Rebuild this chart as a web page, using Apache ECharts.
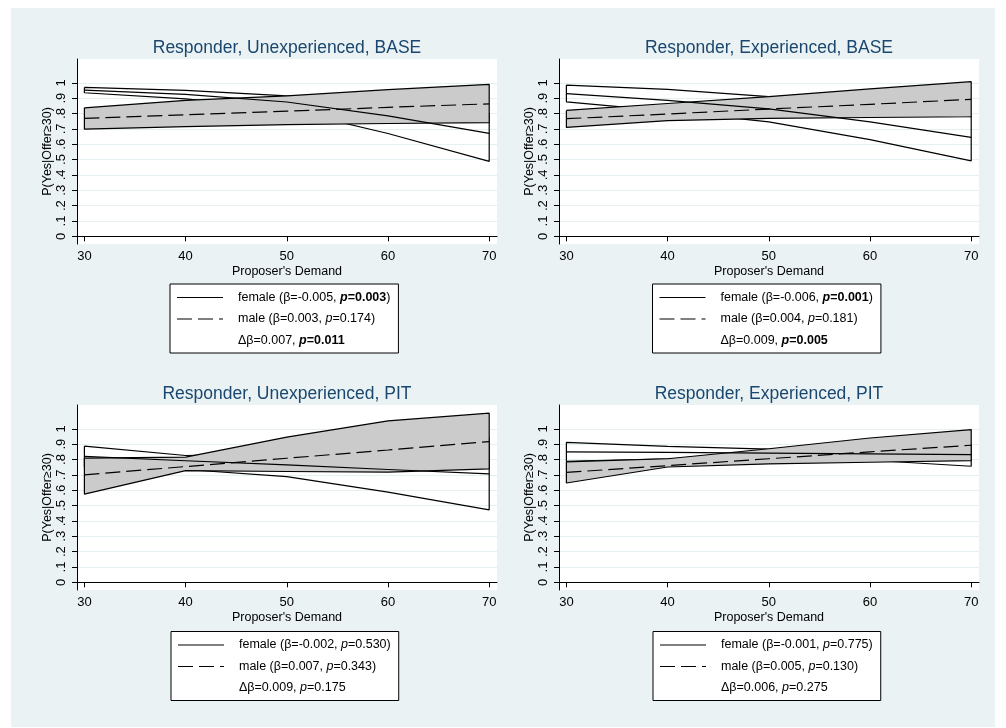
<!DOCTYPE html>
<html>
<head>
<meta charset="utf-8">
<script src="https://cdn.jsdelivr.net/npm/echarts@6/dist/echarts.min.js"></script>
<style>
html,body{margin:0;padding:0;background:#ffffff;width:1006px;height:728px;overflow:hidden;}
#c{position:absolute;left:11px;top:8px;width:984px;height:719px;background:#eaf2f3;}
</style>
</head>
<body>
<div id="c"></div>
<script>
// ---------- data ----------
const xValues = [30, 40, 50, 60, 70];
const xTickValues = [30, 40, 50, 60, 70];
const yTickValues = [0, 0.1, 0.2, 0.3, 0.4, 0.5, 0.6, 0.7, 0.8, 0.9, 1];
const yTickLabels = ['0', '.1', '.2', '.3', '.4', '.5', '.6', '.7', '.8', '.9', '1'];
const panelTitles = [
  'Responder, Unexperienced, BASE',
  'Responder, Experienced, BASE',
  'Responder, Unexperienced, PIT',
  'Responder, Experienced, PIT'
];
const xAxisTitle = "Proposer's Demand";
const yAxisTitle = 'P(Yes|Offer\u226530)';

// Responder, Unexperienced, BASE
const ubFemaleMean = [0.952, 0.925, 0.875, 0.785, 0.670];
const ubFemaleLo   = [0.935, 0.895, 0.825, 0.670, 0.488];
const ubFemaleHi   = [0.970, 0.950, 0.915, 0.870, 0.800];
const ubMaleMean   = [0.768, 0.792, 0.815, 0.840, 0.863];
const ubMaleLo     = [0.698, 0.715, 0.728, 0.735, 0.740];
const ubMaleHi     = [0.837, 0.885, 0.915, 0.955, 0.990];

// Responder, Experienced, BASE
const ebFemaleMean = [0.930, 0.885, 0.830, 0.745, 0.644];
const ebFemaleLo   = [0.876, 0.815, 0.745, 0.630, 0.492];
const ebFemaleHi   = [0.985, 0.957, 0.910, 0.850, 0.780];
const ebMaleMean   = [0.766, 0.797, 0.829, 0.860, 0.892];
const ebMaleLo     = [0.709, 0.753, 0.768, 0.774, 0.779];
const ebMaleHi     = [0.820, 0.865, 0.910, 0.960, 1.007];

// Responder, Unexperienced, PIT
const upFemaleMean = [0.820, 0.792, 0.765, 0.735, 0.707];
const upFemaleLo   = [0.752, 0.735, 0.689, 0.587, 0.472];
const upFemaleHi   = [0.887, 0.826, 0.840, 0.880, 0.940];
const upMaleMean   = [0.700, 0.754, 0.808, 0.862, 0.917];
const upMaleLo     = [0.574, 0.728, 0.722, 0.718, 0.739];
const upMaleHi     = [0.809, 0.815, 0.946, 1.052, 1.102];

// Responder, Experienced, PIT
const epFemaleMean = [0.850, 0.846, 0.842, 0.837, 0.832];
const epFemaleLo   = [0.788, 0.805, 0.812, 0.795, 0.756];
const epFemaleHi   = [0.912, 0.885, 0.868, 0.880, 0.900];
const epMaleMean   = [0.716, 0.760, 0.805, 0.850, 0.893];
const epMaleLo     = [0.647, 0.751, 0.771, 0.782, 0.793];
const epMaleHi     = [0.785, 0.805, 0.870, 0.940, 0.995];

// legend statistics
const femaleBeta = ['-0.005', '-0.006', '-0.002', '-0.001'];
const femaleP    = ['0.003', '0.001', '0.530', '0.775'];
const maleBeta   = ['0.003', '0.004', '0.007', '0.005'];
const maleP      = ['0.174', '0.181', '0.343', '0.130'];
const deltaBeta  = ['0.007', '0.009', '0.009', '0.006'];
const deltaP     = ['0.011', '0.005', '0.175', '0.275'];

// ---------- build ----------
const panels = [
  {fm: ubFemaleMean, fl: ubFemaleLo, fh: ubFemaleHi, mm: ubMaleMean, ml: ubMaleLo, mh: ubMaleHi},
  {fm: ebFemaleMean, fl: ebFemaleLo, fh: ebFemaleHi, mm: ebMaleMean, ml: ebMaleLo, mh: ebMaleHi},
  {fm: upFemaleMean, fl: upFemaleLo, fh: upFemaleHi, mm: upMaleMean, ml: upMaleLo, mh: upMaleHi},
  {fm: epFemaleMean, fl: epFemaleLo, fh: epFemaleHi, mm: epMaleMean, ml: epMaleLo, mh: epMaleHi}
];

const FONT = '"Liberation Sans", Arial, Helvetica, sans-serif';
const gridPos = [
  {left: 66, top: 51},
  {left: 548, top: 51},
  {left: 66, top: 397},
  {left: 548, top: 397}
];
const GW = 420, GH = 185;
const legendPos = [
  {left: 159, top: 276},
  {left: 641.5, top: 276},
  {left: 160, top: 623.5},
  {left: 642, top: 623.5}
];
const DASH = [15, 6];

function sig(p) { return parseFloat(p) < 0.05; }
const richMap = {};
function pPart(p) {
  return sig(p) ? '{bi|p}{b|=' + p + '}' : '{i|p}{n|=' + p + '}';
}
function series(values) { return xValues.map((x, k) => [x, values[k]]); }
function outline(hi, lo) {
  const pts = xValues.map((x, k) => [x, hi[k]]);
  for (let k = xValues.length - 1; k >= 0; k--) pts.push([xValues[k], lo[k]]);
  pts.push([xValues[0], hi[0]]);
  return pts;
}

const grids = [], xAxes = [], yAxes = [], titles = [], legends = [], allSeries = [];

panels.forEach((p, i) => {
  grids.push({left: gridPos[i].left, top: gridPos[i].top, width: GW, height: GH,
    show: true, backgroundColor: '#ffffff', borderWidth: 0});
  xAxes.push({
    type: 'value', gridIndex: i, min: 29.27, max: 70.77,
    name: xAxisTitle, nameLocation: 'middle', nameGap: 21,
    nameTextStyle: {fontFamily: FONT, fontSize: 12.5, color: '#000'},
    axisLine: {show: true, lineStyle: {color: '#000', width: 1}},
    axisTick: {show: true, length: 5, customValues: xTickValues, lineStyle: {color: '#000'}},
    axisLabel: {customValues: xTickValues, fontFamily: FONT, fontSize: 13, color: '#000', margin: 6},
    splitLine: {show: false}
  });
  yAxes.push({
    type: 'value', gridIndex: i, min: -0.05, max: 1.155,
    name: yAxisTitle, nameLocation: 'middle', nameGap: 22,
    nameTextStyle: {fontFamily: FONT, fontSize: 12.5, color: '#000'},
    axisLine: {show: true, lineStyle: {color: '#000', width: 1}},
    axisTick: {show: true, length: 5, customValues: yTickValues, lineStyle: {color: '#000'}},
    axisLabel: {customValues: yTickValues, rotate: 90, fontFamily: FONT, fontSize: 13, color: '#000', margin: 9,
      formatter: v => { const k = yTickValues.findIndex(t => Math.abs(t - v) < 1e-9); return k >= 0 ? yTickLabels[k] : ''; }},
    splitLine: {show: true, lineStyle: {color: '#e6eff1', width: 1}}
  });
  titles.push({
    text: panelTitles[i], left: gridPos[i].left + GW / 2, top: gridPos[i].top - 20, textAlign: 'center', padding: 0,
    textStyle: {fontFamily: FONT, fontSize: 17.5, fontWeight: 'normal', color: '#1a476f'}
  });

  const fName = 'female (\u03b2=' + femaleBeta[i] + ', p=' + femaleP[i] + ')';
  const mName = 'male (\u03b2=' + maleBeta[i] + ', p=' + maleP[i] + ')';
  const dName = '\u0394\u03b2=' + deltaBeta[i] + ', p=' + deltaP[i];
  richMap[fName] = '{g| }{n|female (\u03b2=' + femaleBeta[i] + ', }' + pPart(femaleP[i]) + '{n|)}';
  richMap[mName] = '{g| }{n|male (\u03b2=' + maleBeta[i] + ', }' + pPart(maleP[i]) + '{n|)}';
  richMap[dName] = '{g| }{n|\u0394\u03b2=' + deltaBeta[i] + ', }' + pPart(deltaP[i]);

  legends.push({
    orient: 'vertical', left: legendPos[i].left, top: legendPos[i].top,
    padding: [7, 8, 6, 6], itemGap: 8.5, itemWidth: 46, itemHeight: 14,
    backgroundColor: '#ffffff', borderColor: '#000', borderWidth: 1, borderRadius: 0,
    selectedMode: false,
    itemStyle: {opacity: 0},
    data: [
      {name: fName, lineStyle: {color: '#000', width: 1.1, type: 'solid'}, itemStyle: {opacity: 0}},
      {name: mName, lineStyle: {color: '#000', width: 1.1, type: DASH}, itemStyle: {opacity: 0}},
      {name: dName, lineStyle: {opacity: 0}, itemStyle: {opacity: 0}}
    ],
    formatter: name => richMap[name] || name,
    textStyle: {
      fontFamily: FONT, fontSize: 12.5, color: '#000',
      rich: {
        g: {width: 10, fontSize: 12.5, fontFamily: FONT},
        n: {fontSize: 12.5, fontFamily: FONT, color: '#000'},
        i: {fontSize: 12.5, fontFamily: FONT, color: '#000', fontStyle: 'italic'},
        b: {fontSize: 12.5, fontFamily: FONT, color: '#000', fontWeight: 'bold'},
        bi: {fontSize: 12.5, fontFamily: FONT, color: '#000', fontWeight: 'bold', fontStyle: 'italic'}
      }
    }
  });

  const common = {xAxisIndex: i, yAxisIndex: i, symbol: 'none', silent: true, animation: false};
  allSeries.push(Object.assign({type: 'line', name: 'female-band-' + i, z: 2,
    data: outline(p.fh, p.fl), lineStyle: {color: '#000', width: 1.2}}, common));
  const mh = p.mh, ml = p.ml;
  allSeries.push({type: 'custom', name: 'male-fill-' + i, xAxisIndex: i, yAxisIndex: i, z: 3, silent: true,
    animation: false, data: [[xValues[0], ml[0]]], encode: {x: 0, y: 1},
    renderItem: (params, api) => {
      const pts = xValues.map((x, k) => api.coord([x, mh[k]]));
      for (let k = xValues.length - 1; k >= 0; k--) pts.push(api.coord([xValues[k], ml[k]]));
      return {type: 'polygon', shape: {points: pts}, style: {fill: '#cbcbcb', stroke: 'none'}};
    }});
  allSeries.push(Object.assign({type: 'line', name: 'male-band-' + i, z: 4,
    data: outline(p.mh, p.ml), lineStyle: {color: '#000', width: 1.2}}, common));
  allSeries.push(Object.assign({type: 'line', name: fName, z: 5,
    data: series(p.fm), color: '#000', lineStyle: {color: '#000', width: 1.2, type: 'solid'}}, common));
  allSeries.push(Object.assign({type: 'line', name: mName, z: 5,
    data: series(p.mm), color: '#000', lineStyle: {color: '#000', width: 1.2, type: DASH}}, common));
  allSeries.push(Object.assign({type: 'line', name: dName, z: 1,
    data: [], color: '#000', lineStyle: {opacity: 0}}, common));
});

const chart = echarts.init(document.getElementById('c'), null, {renderer: 'canvas'});
chart.setOption({
  backgroundColor: 'transparent',
  animation: false,
  title: titles,
  legend: legends,
  grid: grids,
  xAxis: xAxes,
  yAxis: yAxes,
  series: allSeries
});
</script>
</body>
</html>
